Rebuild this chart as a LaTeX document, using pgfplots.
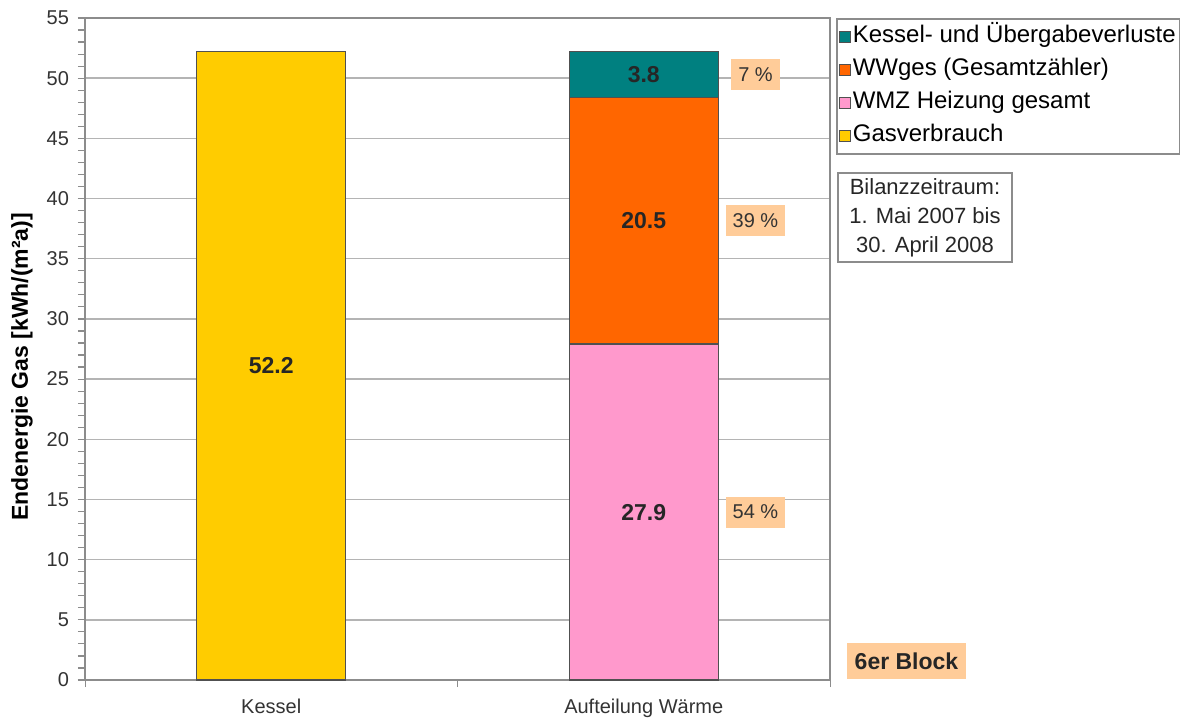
\documentclass[border=0pt]{standalone}
\usepackage{pgfplots}
\pgfplotsset{compat=1.18}
\usepackage{fontspec}
\setmainfont{Liberation Sans}
\definecolor{cTeal}{HTML}{008080}
\definecolor{cOrange}{HTML}{FF6600}
\definecolor{cPink}{HTML}{FF99CC}
\definecolor{cYellow}{HTML}{FFCC00}
\definecolor{cPeach}{HTML}{FFCC99}
\definecolor{cEdge}{HTML}{505050}
\definecolor{cGrid}{HTML}{B4B4B4}
\definecolor{cAxis}{HTML}{8C8C8C}
\begin{document}
\begin{tikzpicture}
\useasboundingbox (0,0) rectangle (592pt,360pt);
\begin{axis}[
  at={(42.5pt,20pt)}, anchor=south west,
  scale only axis, width=372.5pt, height=331pt,
  ybar stacked, bar width=0.4,
  xmin=-0.5, xmax=1.5, ymin=0, ymax=55,
  xtick={0,1}, xticklabels={Kessel, Aufteilung Wärme},
  extra x ticks={-0.5,0.5,1.5}, extra x tick labels={},
  extra x tick style={xtick style={draw=cAxis}, major tick length=3.5pt, grid=none},
  ytick={0,5,...,55}, minor ytick={0,1,...,55},
  xtick pos=left, ytick pos=left,
  tick align=outside, major tick length=3.5pt, minor tick length=3.5pt,
  xtick style={draw=none},
  ytick style={draw=cAxis, line width=0.6pt},
  axis line style={cAxis, line width=0.8pt},
  ymajorgrids, grid style={cGrid, line width=0.7pt},
  /pgf/number format/assume math mode=true,
  tick label style={font=\fontsize{10}{12}\selectfont, text=black!80},
  yticklabel style={anchor=east, xshift=-1pt},
  xticklabel style={anchor=base, yshift=-13pt},
  ylabel={Endenergie Gas [kWh/(m²a)]},
  ylabel style={at={(axis description cs:-0.0846,0.473)}, rotate=0, anchor=center, font=\bfseries\fontsize{11.5}{13}\selectfont},
  reverse legend,
  legend style={at={(1.0081,1)}, anchor=north west, draw=cAxis, line width=0.8pt,
    font=\fontsize{12}{14}\selectfont, inner xsep=1pt, inner ysep=2pt,
    nodes={inner sep=1pt, text height=9pt, text depth=3pt}, row sep=2.5pt},
  legend cell align=left,
  legend image code/.code={\draw[#1, line width=0.5pt, draw=cEdge] (0pt,-2.75pt) rectangle (5.5pt,2.75pt);},
]
\addplot[fill=cYellow, draw=cEdge, line width=0.7pt] coordinates {(0,52.2) (1,0)};
\addlegendentry{Gasverbrauch}
\addplot[fill=cPink, draw=cEdge, line width=0.7pt] coordinates {(0,0) (1,27.9)};
\addlegendentry{WMZ Heizung gesamt}
\addplot[fill=cOrange, draw=cEdge, line width=0.7pt] coordinates {(0,0) (1,20.5)};
\addlegendentry{WWges (Gesamtzähler)}
\addplot[fill=cTeal, draw=cEdge, line width=0.7pt] coordinates {(0,0) (1,3.8)};
\addlegendentry{Kessel- und Übergabeverluste}
\coordinate (V1) at (axis cs:0,26.1);
\coordinate (V2) at (axis cs:1,13.95);
\coordinate (V3) at (axis cs:1,38.15);
\coordinate (V4) at (axis cs:1,50.3);
\coordinate (P1) at (axis cs:1.3,50.3);
\coordinate (P2) at (axis cs:1.3,38.15);
\coordinate (P3) at (axis cs:1.3,13.95);
\end{axis}
\begin{scope}[every node/.style={font=\bfseries\fontsize{11.5}{13}\selectfont, text=black!85}]
\node at (V1) {52.2};
\node at (V2) {27.9};
\node at (V3) {20.5};
\node at (V4) {3.8};
\end{scope}
\begin{scope}[every node/.style={fill=cPeach, font=\fontsize{10}{12}\selectfont, text=black!80, inner xsep=3.5pt, minimum height=15.5pt}]
\node at (P1) {7 \%};
\node at (P2) {39 \%};
\node at (P3) {54 \%};
\end{scope}
\node[draw=cAxis, line width=0.9pt, align=center, font=\fontsize{11}{14.5}\selectfont, text=black!85, minimum width=87pt, minimum height=44.5pt, inner sep=2pt] at (462.5pt,251.25pt) {Bilanzzeitraum:\\1. Mai 2007 bis\\30. April 2008};
\node[fill=cPeach, font=\bfseries\fontsize{11.5}{13}\selectfont, text=black!85, minimum width=59.5pt, minimum height=18pt, inner sep=2pt] at (453.25pt,29.5pt) {6er Block};
\end{tikzpicture}
\end{document}
